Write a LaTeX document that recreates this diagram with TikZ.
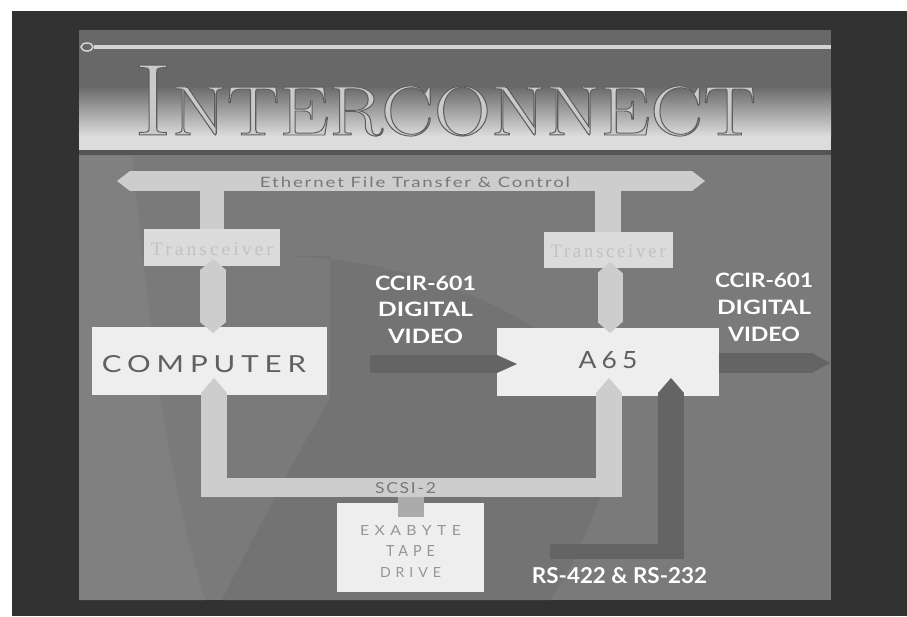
\documentclass[tikz,border=0pt]{standalone}
\usepackage{fontspec}
\usepackage{graphicx}
\newfontfamily\lato{Lato}
\newfontfamily\tnr{Liberation Serif}
\usetikzlibrary{arrows.meta,calc}
\definecolor{outerW}{HTML}{FFFFFF}
\definecolor{frameC}{HTML}{323232}
\definecolor{bgC}{HTML}{7A7A7A}
\definecolor{bgLight}{HTML}{808080}
\definecolor{bgDark}{HTML}{737373}
\definecolor{titleTop}{HTML}{686868}
\definecolor{titleLight}{HTML}{DCDCDC}
\definecolor{titleLine}{HTML}{555555}
\definecolor{ruleC}{HTML}{D4D4D4}
\definecolor{titleText}{HTML}{CACACA}
\definecolor{boxC}{HTML}{EEEEEE}
\definecolor{transC}{HTML}{DBDBDB}
\definecolor{transText}{HTML}{C2C2C2}
\definecolor{barC}{HTML}{CDCDCD}
\definecolor{stubC}{HTML}{ABABAB}
\definecolor{darkArr}{HTML}{646464}
\definecolor{boxText}{HTML}{606060}
\definecolor{barText}{HTML}{787878}
\definecolor{exaText}{HTML}{959595}
\newcommand\ftxt[3]{\resizebox{#1pt}{#2pt}{#3}}
\newcommand\ls[1]{\addfontfeatures{LetterSpace=#1}}
\newcommand\titletext{{\fontsize{100}{100}\selectfont I}{\fontsize{68.6}{70}\selectfont NTERCONNECT}}
\newcommand\outlined[1]{\special{pdf:literal direct 2 Tr 0.9 w 0.36 G}#1\special{pdf:literal direct 0 Tr}}
\tikzset{
  every node/.style={inner sep=0pt, outer sep=0pt},
  whitebox/.style={fill=boxC, text=boxText},
  transbox/.style={fill=transC, text=transText},
  lbar/.style={draw=barC, line width=#1pt},
  dbar/.style={draw=darkArr, line width=#1pt},
  ptip/.style={-{Triangle[length=#1pt, width=0pt 1, line width=0pt 0]}},
  dtip/.style={{Triangle[length=#1pt, width=0pt 1, line width=0pt 0]}-{Triangle[length=#1pt, width=0pt 1, line width=0pt 0]}},
  whitelbl/.style={text=white},
}
\begin{document}
\begin{tikzpicture}[x=1pt,y=-1pt]
% canvas and slide
\fill[outerW] (0,0) rectangle (907,616);
\fill[frameC] (12,11) rectangle (907,616);
\fill[bgC] (79,30) rectangle (831,600);
\fill[bgLight] (79,156) -- (132,156) .. controls (150,330) and (165,470) .. (205,600) -- (79,600) -- cycle;
\fill[bgDark] (280,256) .. controls (400,258) and (520,300) .. (600,380) -- (600,497) .. controls (585,540) and (565,580) .. (550,600) -- (222,600) .. controls (262,520) and (300,450) .. (330,398) -- (330,256) -- cycle;
% title band
\fill[titleTop] (79,30) rectangle (831,150);
\shade[top color=titleTop, bottom color=titleLight] (79,86) rectangle (831,136);
\fill[titleLight] (79,136) rectangle (831,150);
\fill[titleLine] (79,150) rectangle (831,155);
\draw[ruleC, line width=4pt] (94,47) -- (831,47);
\draw[ruleC, line width=1.5pt] (87,47) ellipse (6 and 4);
\node[anchor=base west, text=titleText] (title) at (134,135) {\ftxt{622}{70}{\outlined{\titletext}}};
% ethernet bus
\coordinate (ethL) at (117,181);
\coordinate (ethR) at (705,181);
\draw[lbar=20, dtip=13] (ethL) -- (ethR);
\node[text=barText] (ethtxt) at (415,182) {\ftxt{310}{10.5}{\lato\ls{10}Ethernet File Transfer \& Control}};
% boxes
\node[transbox, minimum width=136pt, minimum height=37pt, text height=15pt, text depth=0pt] (transL) at (212,247.5) {\ftxt{122}{12.5}{\tnr\ls{15}Transceiver}};
\node[transbox, minimum width=129pt, minimum height=36pt, text height=14pt, text depth=0pt] (transR) at (608,250) {\ftxt{115}{12.5}{\tnr\ls{15}Transceiver}};
\node[whitebox, minimum width=235pt, minimum height=68pt, text height=22pt, text depth=0pt] (comp) at (209.5,361) {\ftxt{204}{17}{\lato\ls{20}COMPUTER}\hspace*{11pt}};
\node[whitebox, minimum width=222pt, minimum height=68pt, text height=17pt, text depth=5pt] (a65) at (608,362) {\ftxt{59}{17}{\lato\ls{20}A65}};
\node[whitebox, text=exaText, minimum width=147pt, minimum height=89pt, align=center, font=\lato\fontsize{10}{21}\selectfont] (exa) at (410.5,547.5) {\rule{0pt}{17pt}\ftxt{101}{10}{\ls{35}EXABYTE}\\ \ftxt{49}{11}{\ls{35}TAPE}\\ \ftxt{61}{10}{\ls{35}DRIVE}};
% ethernet stems
\draw[lbar=24] (transL.north |- ethL) -- (transL.north);
\draw[lbar=26] (transR.north |- ethL) -- (transR.north);
% transceiver links
\draw[lbar=26, dtip=11] ($(transL.south)+(1,-7)$) -- ($(transL.south |- comp.north)+(1,6)$);
\draw[lbar=25, dtip=11] ($(transR.south)+(2,-6)$) -- ($(transR.south |- a65.north)+(2,5)$);
% SCSI bus
\coordinate (scsiL) at ($(comp.south)+(4.5,92.5)$);
\coordinate (scsiR) at ($(a65.south)+(1,91.5)$);
\draw[lbar=19] ($(scsiL)+(-13,0)$) -- ($(scsiR)+(13,0)$);
\draw[lbar=26, ptip=15] ($(scsiL)+(0,9.5)$) -- ($(scsiL |- comp.south)+(0,-17)$);
\draw[lbar=26, ptip=15] ($(scsiR)+(0,9.5)$) -- ($(scsiR |- a65.south)+(0,-18)$);
\draw[stubC, line width=26pt] ($(exa.north)+(0,-6)$) -- ($(exa.north)+(0,14)$);
\node[text=barText] (scsitxt) at (405.5,488.5) {\ftxt{61}{11}{\lato\ls{10}SCSI-2}};
% video arrows
\coordinate (vin) at (370,364);
\draw[dbar=18, ptip=20] (vin) -- ($(a65.west)+(20,2)$);
\coordinate (vout) at (830,363);
\draw[dbar=20, ptip=18] (a65.east |- vout) -- (vout);
% RS-422 path
\coordinate (rsE) at (550,551);
\coordinate (rsK) at (671,551);
\draw[dbar=15] (rsE) -- ($(rsK)+(13,0)$);
\draw[dbar=26, ptip=15] ($(rsK)+(0,7.5)$) -- ($(rsK |- a65.south)+(0,-18)$);
% white labels
\node[whitelbl, align=center, font=\lato\bfseries\fontsize{14}{26.5}\selectfont] (ccirL) at (425.5,309.5) {\ftxt{101}{14.5}{CCIR-601}\\ \ftxt{95}{14.5}{DIGITAL}\\ \ftxt{75}{14.5}{VIDEO}};
\node[whitelbl, align=center, font=\lato\bfseries\fontsize{14}{27}\selectfont] (ccirR) at (764,307.5) {\ftxt{98}{14.5}{CCIR-601}\\ \ftxt{94}{14.5}{DIGITAL}\\ \ftxt{72}{14.5}{VIDEO}};
\node[whitelbl, font=\lato\bfseries] (rs) at (619.5,576) {\ftxt{175}{16}{RS-422 \& RS-232}};
\end{tikzpicture}
\end{document}
